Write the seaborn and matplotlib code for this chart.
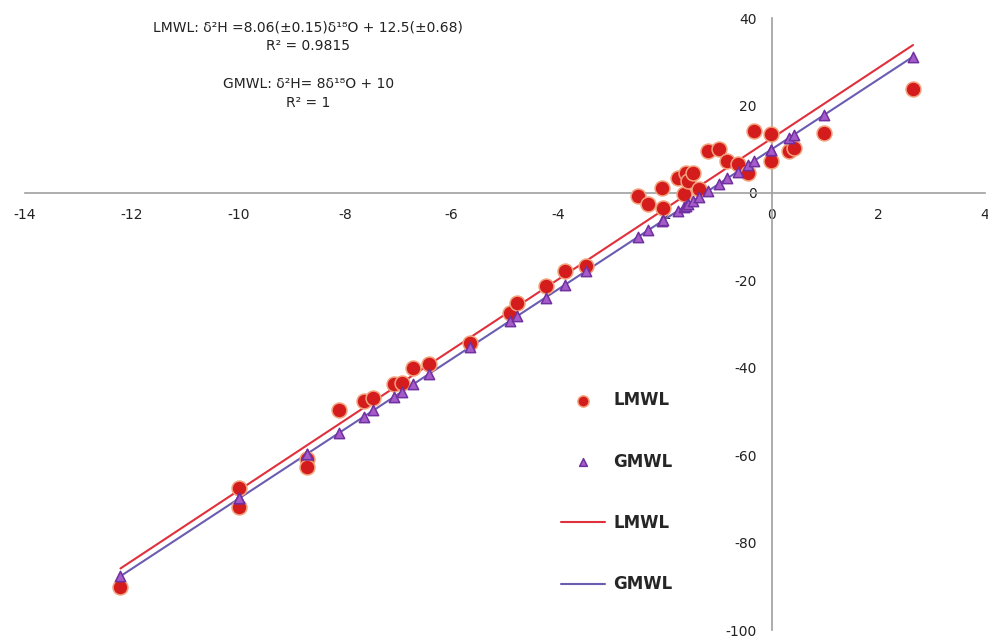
import numpy as np
import pandas as pd
import seaborn as sns
import matplotlib.pyplot as plt

# d18O / d2H values (local precipitation samples)
d18o = [-12.21, -9.98, -9.98, -8.71, -8.71, -8.12, -7.65, -7.47, -7.09, -6.93,
        -6.72, -6.43, -5.65, -4.90, -4.77, -4.24, -3.87, -3.49,
        -2.50, -2.31, -2.05, -2.03, -1.76, -1.65, -1.61, -1.56, -1.48, -1.37,
        -1.20, -0.99, -0.83, -0.64, -0.45, -0.34, -0.02, -0.02, 0.32, 0.41,
        0.98, 2.65]
d2h = [-90.2, -67.5, -71.9, -60.9, -62.8, -49.7, -47.6, -46.9, -43.8, -43.4,
       -40.0, -39.1, -34.3, -27.4, -25.2, -21.3, -17.9, -16.7,
       -0.7, -2.5, 1.1, -3.4, 3.4, -0.2, 4.6, 2.7, 4.6, 0.9,
       9.6, 10.1, 7.3, 6.6, 4.6, 14.2, 13.5, 7.3, 9.6, 10.3,
       13.7, 23.8]

x_ticks = [-14, -12, -10, -8, -6, -4, -2, 0, 2, 4]
y_ticks = [40, 20, 0, -20, -40, -60, -80, -100]

df = pd.DataFrame({"d18o": d18o, "d2h": d2h})
df["gmwl"] = 8 * df["d18o"] + 10

line_x = np.array([min(d18o), max(d18o)])
lines = pd.DataFrame({"x": line_x,
                      "lmwl": 8.06 * line_x + 12.5,
                      "gmwl": 8 * line_x + 10})

sns.set_style("white")
fig = plt.figure(figsize=(9.88, 6.38), dpi=100)
ax = fig.add_axes([0.0253, 0.0125, 0.9717, 0.959])

sns.lineplot(data=lines, x="x", y="lmwl", ax=ax, color="#e0303c", lw=1.5,
             label="LMWL", zorder=2)
sns.lineplot(data=lines, x="x", y="gmwl", ax=ax, color="#6a5cb0", lw=1.5,
             label="GMWL", zorder=2)
sns.scatterplot(data=df, x="d18o", y="d2h", ax=ax, marker="o", s=115,
                color="#d41c1c", edgecolor="#f2a27c", linewidth=1.1,
                label="LMWL", zorder=3)
sns.scatterplot(data=df, x="d18o", y="gmwl", ax=ax, marker="^", s=55,
                color="#a35cc8", edgecolor="#7030a0", linewidth=1.1,
                label="GMWL", zorder=4)

ax.set_xlim(-14, 4)
ax.set_ylim(-100, 40)
ax.set_xticks(x_ticks)
ax.set_yticks(y_ticks)
ax.set_xticklabels([str(t) for t in x_ticks], fontweight="bold", fontsize=12)
ax.set_yticklabels([str(t) for t in y_ticks], fontweight="bold", fontsize=12)
ax.set_xlabel("")
ax.set_ylabel("")

for side in ["top", "right"]:
    ax.spines[side].set_visible(False)
for side in ["left", "bottom"]:
    ax.spines[side].set_position(("data", 0))
    ax.spines[side].set_color("#a0a0a0")
    ax.spines[side].set_linewidth(1.2)
ax.tick_params(direction="inout", length=6, color="#a0a0a0",
               labelcolor="#222222", pad=8)

handles, labels = ax.get_legend_handles_labels()
order = [2, 3, 0, 1]
leg = ax.legend([handles[i] for i in order], [labels[i] for i in order],
                loc="upper left", bbox_to_anchor=(0.553, 0.41),
                bbox_transform=fig.transFigure, frameon=False,
                labelspacing=2.6, handlelength=2.6, handletextpad=0.5,
                markerscale=0.75, prop={"weight": "bold", "size": 12})

ann = ("LMWL: δ²H =8.06(±0.15)δ¹⁸O + 12.5(±0.68)\nR² = 0.9815\n\n"
       "GMWL: δ²H= 8δ¹⁸O + 10\nR² = 1")
fig.text(0.312, 0.968, ann, ha="center", va="top", fontsize=10,
         color="#222222", linespacing=1.45)

fig.savefig("out.png", dpi=100)
plt.close(fig)
